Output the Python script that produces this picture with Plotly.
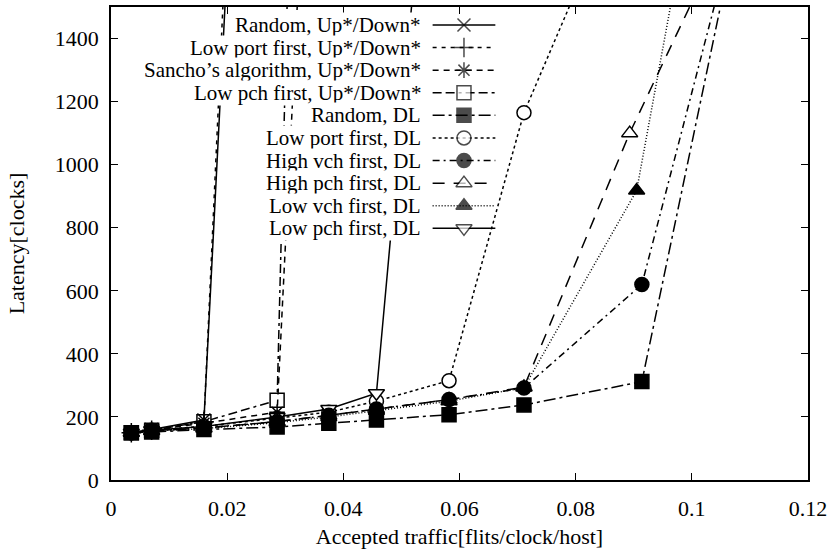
import plotly.graph_objects as go

# ---------------- data ----------------
names = [
    "Random, Up*/Down*",
    "Low port first, Up*/Down*",
    "Sancho\u2019s algorithm, Up*/Down*",
    "Low pch first, Up*/Down*",
    "Random, DL",
    "Low port first, DL",
    "High vch first, DL",
    "High pch first, DL",
    "Low vch first, DL",
    "Low pch first, DL",
]

x_random_ud = [0.0035, 0.007, 0.016, 0.021]
y_random_ud = [150, 160, 190, 2000]

x_lowport_ud = [0.0035, 0.007, 0.016, 0.0205]
y_lowport_ud = [150, 158, 185, 2000]

x_sancho_ud = [0.0035, 0.007, 0.016, 0.0286, 0.0334]
y_sancho_ud = [150, 158, 180, 215, 2000]

x_lowpch_ud = [0.0035, 0.007, 0.016, 0.0286, 0.031]
y_lowpch_ud = [150, 158, 185, 253, 2000]

x_random_dl = [0.0035, 0.007, 0.016, 0.0286, 0.0375, 0.0457, 0.0582, 0.0711, 0.0914, 0.1106]
y_random_dl = [150, 152, 160, 168, 180, 190, 207, 238, 312, 2000]

x_lowport_dl = [0.0035, 0.007, 0.016, 0.0286, 0.0375, 0.0457, 0.0582, 0.0711, 0.0905]
y_lowport_dl = [150, 158, 170, 195, 215, 250, 315, 1165, 2000]

x_highvch_dl = [0.0035, 0.007, 0.016, 0.0286, 0.0375, 0.0457, 0.0582, 0.0711, 0.0914, 0.1109]
y_highvch_dl = [150, 156, 165, 185, 205, 225, 255, 292, 620, 2000]

x_highpch_dl = [0.0035, 0.007, 0.016, 0.0286, 0.0375, 0.0457, 0.0582, 0.0711, 0.0893, 0.1125]
y_highpch_dl = [150, 156, 165, 185, 205, 225, 255, 295, 1100, 2000]

x_lowvch_dl = [0.0035, 0.007, 0.016, 0.0286, 0.0375, 0.0457, 0.0582, 0.0711, 0.0905, 0.1013]
y_lowvch_dl = [150, 155, 163, 182, 200, 220, 250, 293, 918, 2000]

x_lowpch_dl = [0.0035, 0.007, 0.016, 0.0286, 0.0375, 0.0457, 0.0542]
y_lowpch_dl = [150, 158, 170, 200, 225, 275, 2000]

x_ticks = [0, 0.02, 0.04, 0.06, 0.08, 0.1, 0.12]
x_tick_labels = ["0", "0.02", "0.04", "0.06", "0.08", "0.1", "0.12"]
y_ticks = [0, 200, 400, 600, 800, 1000, 1200, 1400]

# ---------------- styles ----------------
FONT = "Liberation Serif, Times New Roman, serif"
FS = 22
KEY_FS = 21
LW = 1.5
series = [
    (x_random_ud, y_random_ud, "solid", "x-thin", "black", 13),
    (x_lowport_ud, y_lowport_ud, "4px,5px", "cross-thin", "black", 14),
    (x_sancho_ud, y_sancho_ud, "6px,5px", "asterisk", "black", 13),
    (x_lowpch_ud, y_lowpch_ud, "9px,4px,9px,4px,3px,4px", "square", "white", 14),
    (x_random_dl, y_random_dl, "12px,4px,3px,4px", "square", "black", 14),
    (x_lowport_dl, y_lowport_dl, "3px,3px", "circle", "white", 14),
    (x_highvch_dl, y_highvch_dl, "7px,4px,2px,4px", "circle", "black", 14),
    (x_highpch_dl, y_highpch_dl, "12px,9px", "triangle-up", "white", 14),
    (x_lowvch_dl, y_lowvch_dl, "1px,2px", "triangle-up", "black", 14),
    (x_lowpch_dl, y_lowpch_dl, "solid", "triangle-down", "white", 14),
]
# drawing order: open markers below, filled markers and thin symbols above
draw_order = [3, 5, 7, 9, 8, 6, 4, 2, 1, 0]

fig = go.Figure()
for k in draw_order:
    xs, ys, dash, sym, fill, ms = series[k]
    fig.add_trace(go.Scatter(
        x=xs, y=ys, mode="lines+markers", name=names[k], showlegend=False,
        line=dict(color="black", width=LW, dash=dash),
        marker=dict(symbol=sym, size=ms, color=fill,
                    line=dict(color="black", width=1.5)),
    ))

# ---------------- gnuplot-style key (text right, sample left) ----------------
# plot area in px: left 111, right 811, top 5, bottom 480
PL, PR, PT, PB = 111, 811, 5, 480
def u(px):
    return (px - PL) / (PR - PL)
def v(py):
    return (PB - py) / (PB - PT)

row0, drow = 23, 22.7
text_right, s1, s2 = 423, 434, 497
for i, ((xs, ys, dash, sym, fill, ms), nm) in enumerate(zip(series, names)):
    ry = row0 + drow * i
    fig.add_trace(go.Scatter(
        x=[u(s1), u((s1 + s2) / 2), u(s2)], y=[v(ry)] * 3,
        xaxis="x2", yaxis="y2", mode="lines+markers", showlegend=False,
        hoverinfo="skip", cliponaxis=False,
        line=dict(color="black", width=LW, dash=dash),
        marker=dict(symbol=sym, size=[0, ms, 0], color=fill,
                    line=dict(color="black", width=1.5)),
    ))
    fig.add_annotation(
        x=u(text_right), y=v(ry), xref="paper", yref="paper",
        xanchor="right", yanchor="middle", text=nm, showarrow=False,
        font=dict(family=FONT, size=KEY_FS, color="black"),
        bgcolor="white", borderpad=0,
    )

axis_common = dict(
    showline=True, linecolor="black", linewidth=1.5, mirror="ticks",
    ticks="inside", ticklen=7, tickwidth=1.2, tickcolor="black",
    showgrid=False, zeroline=False,
    tickfont=dict(family=FONT, size=FS, color="black"),
)

fig.update_layout(
    width=832, height=556,
    margin=dict(l=PL, r=832 - PR, t=PT, b=556 - PB),
    paper_bgcolor="white", plot_bgcolor="white",
    font=dict(family=FONT, size=FS, color="black"),
    xaxis=dict(range=[0, 0.12], tickvals=x_ticks, ticktext=x_tick_labels,
               ticklabelstandoff=8,
               title=dict(text="Accepted traffic[flits/clock/host]",
                          font=dict(family=FONT, size=FS), standoff=8),
               **axis_common),
    yaxis=dict(range=[0, 1500], tickvals=y_ticks, ticklabelstandoff=6,
               title=dict(text="Latency[clocks]",
                          font=dict(family=FONT, size=FS), standoff=24),
               **axis_common),
    xaxis2=dict(overlaying="x", range=[0, 1], visible=False, anchor="y2"),
    yaxis2=dict(overlaying="y", range=[0, 1], visible=False, anchor="x2"),
)

fig.write_html("out.html")
